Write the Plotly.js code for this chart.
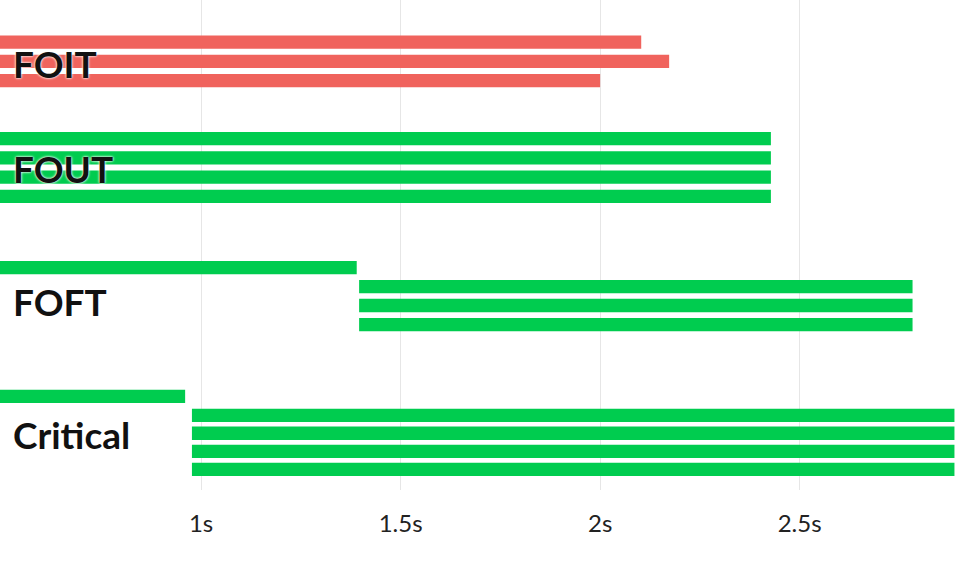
<!DOCTYPE html>
<html>
<head>
<meta charset="utf-8">
<script src="https://cdn.plot.ly/plotly-3.0.1.min.js"></script>
<style>html,body{margin:0;padding:0;background:#fff;}#chart{width:974px;height:566px;}</style>
</head>
<body>
<div id="chart"></div>
<script>
// Group labels and their row positions (row units)
const groupNames = ['FOIT', 'FOUT', 'FOFT', 'Critical'];
const groupLabelRows = [1.12, 6.56, 13.43, 20.34];

// FOIT (red): each bar start/end in seconds, row position
const foitRows = [0, 1, 2];
const foitStart = [0, 0, 0];
const foitEnd = [2.103, 2.173, 2.0];

// FOUT
const foutRows = [5, 6, 7, 8];
const foutStart = [0, 0, 0, 0];
const foutEnd = [2.428, 2.428, 2.428, 2.428];

// FOFT
const foftRows = [11.69, 12.67, 13.65, 14.64];
const foftStart = [0, 1.396, 1.396, 1.396];
const foftEnd = [1.390, 2.783, 2.783, 2.783];

// Critical
const critRows = [18.36, 19.34, 20.27, 21.21, 22.14];
const critStart = [0, 0.977, 0.977, 0.977, 0.977];
const critEnd = [0.960, 2.888, 2.888, 2.888, 2.888];

// Axis ticks
const tickVals = [1, 1.5, 2, 2.5];
const tickText = ['1s', '1.5s', '2s', '2.5s'];

const RED = '#f0635d';
const GREEN = '#00cc4f';

function barTrace(rows, starts, ends, color) {
  return {
    type: 'bar',
    orientation: 'h',
    y: rows,
    base: starts,
    x: ends.map((e, i) => e - starts[i]),
    width: rows.map(() => 0.69),
    marker: {color: color, line: {width: 0}},
    hoverinfo: 'skip',
    showlegend: false
  };
}

const data = [
  barTrace(foitRows, foitStart, foitEnd, RED),
  barTrace(foutRows, foutStart, foutEnd, GREEN),
  barTrace(foftRows, foftStart, foftEnd, GREEN),
  barTrace(critRows, critStart, critEnd, GREEN)
];

const annotations = groupNames.map((name, i) => ({
  text: name,
  xref: 'paper', x: 0, xanchor: 'left', xshift: 11,
  yref: 'y', y: groupLabelRows[i], yanchor: 'middle',
  showarrow: false,
  font: {family: 'Lato, sans-serif', size: 37, color: '#111', weight: 'bold',
         shadow: '0 0 3px #fff, 0 0 2px #fff'}
}));

const layout = {
  width: 974, height: 566,
  margin: {l: 0, r: 0, t: 0, b: 76},
  paper_bgcolor: '#fff', plot_bgcolor: '#fff',
  barmode: 'overlay',
  xaxis: {
    range: [0.496, 2.937],
    tickvals: tickVals, ticktext: tickText,
    showgrid: true, gridcolor: '#e6e6e6', gridwidth: 1,
    zeroline: false, showline: false, ticks: '',
    ticklabelstandoff: 17,
    tickfont: {family: 'Lato, sans-serif', size: 24, color: '#222'}
  },
  yaxis: {
    range: [23.21, -2.18],
    showgrid: false, zeroline: false, showline: false,
    showticklabels: false, ticks: ''
  },
  annotations: annotations,
  showlegend: false
};

Plotly.newPlot('chart', data, layout, {displayModeBar: false, staticPlot: true});
</script>
</body>
</html>
